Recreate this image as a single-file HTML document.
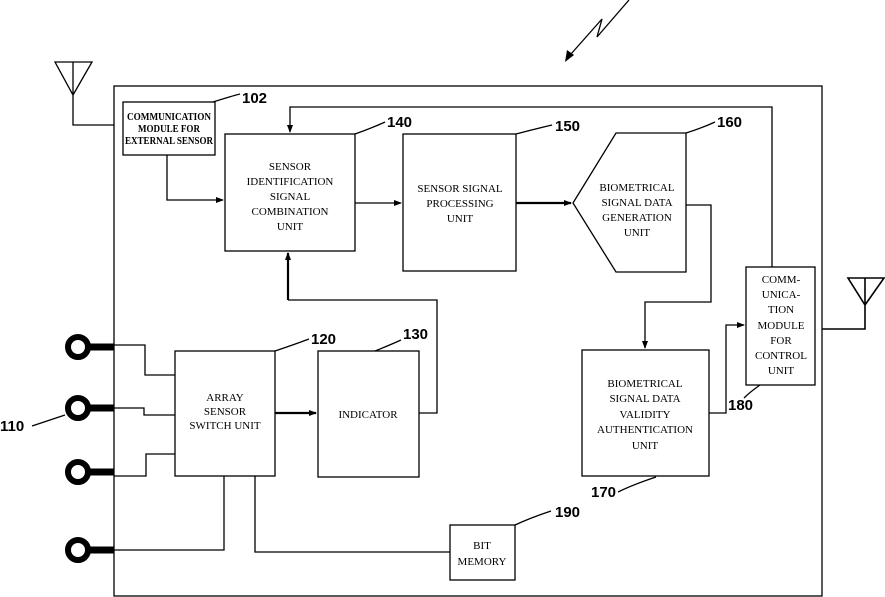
<!DOCTYPE html>
<html><head><meta charset="utf-8"><style>
html,body{margin:0;padding:0;background:#fff;}
svg{display:block;}
text{font-family:"Liberation Serif",serif;font-size:11px;fill:#000;text-anchor:middle;}
.n{font-family:"Liberation Sans",sans-serif;font-weight:bold;font-size:15px;text-anchor:start;}
</style></head><body>
<svg width="885" height="597" viewBox="0 0 885 597" xmlns="http://www.w3.org/2000/svg">
<defs>
<marker id="a" markerWidth="8" markerHeight="6" refX="7" refY="3" orient="auto" markerUnits="userSpaceOnUse"><path d="M0,0 L8,3 L0,6 z" fill="#000"/></marker>
</defs>
<g fill="none" stroke="#000" stroke-width="1.3">
<rect x="114" y="86" width="708" height="510"/>
<path d="M55,62 L92,62 L73,95 Z M73,62 L73,125 L114,125"/>
<path d="M848,278 L884,278 L865,305 Z M865,278 L865,329 L822,329" stroke-width="1.6"/>
<rect x="123" y="102" width="92" height="53"/>
<rect x="225" y="134" width="130" height="117"/>
<rect x="403" y="134" width="113" height="137"/>
<path d="M616,133 L686,133 L686,272 L616,272 L573,203 Z"/>
<rect x="746" y="267" width="69" height="118"/>
<rect x="582" y="350" width="127" height="126"/>
<rect x="175" y="351" width="100" height="125"/>
<rect x="318" y="351" width="101" height="126"/>
<rect x="450" y="525" width="65" height="55"/>
<path d="M167,155 L167,200 L223,200" marker-end="url(#a)"/>
<path d="M355,203 L401,203" marker-end="url(#a)"/>
<path d="M516,203 L571,203" stroke-width="2.2" marker-end="url(#a)"/>
<path d="M686,205 L711,205 L711,302 L645,302 L645,348" marker-end="url(#a)"/>
<path d="M709,413 L726,413 L726,325 L744,325" marker-end="url(#a)"/>
<path d="M772,267 L772,107 L290,107 L290,132" marker-end="url(#a)"/>
<path d="M275,413 L316,413" stroke-width="2.2" marker-end="url(#a)"/>
<path d="M419,413 L437,413 L437,300 L288,300"/>
<path d="M288,300 L288,253" stroke-width="2.2" marker-end="url(#a)"/>
<path d="M114,345 L145,345 L145,375 L175,375"/>
<path d="M114,408 L144,408 L144,415 L175,415"/>
<path d="M114,476 L146,476 L146,454 L175,454"/>
<path d="M114,550 L224,550 L224,476"/>
<path d="M255,476 L255,552 L450,552"/>
<g stroke-width="6">
<circle cx="78" cy="347" r="10"/>
<circle cx="78" cy="408" r="10"/>
<circle cx="78" cy="472" r="10"/>
<circle cx="78" cy="550" r="10"/>
</g>
<g stroke-width="7">
<path d="M88,347 L114,347 M88,408 L114,408 M88,472 L114,472 M88,550 L114,550"/>
</g>
<path d="M213,102 Q232,96 240,94"/>
<path d="M355,134 Q372,128 385,122"/>
<path d="M516,134 Q535,129 552,125"/>
<path d="M686,133 Q702,128 715,122"/>
<path d="M275,351 Q293,345 309,339"/>
<path d="M375,351 Q390,345 401,340"/>
<path d="M32,426 Q50,420 65,415"/>
<path d="M760,385 Q750,392 744,398"/>
<path d="M618,492 Q632,485 656,477"/>
<path d="M515,525 Q530,518 551,511"/>
<path d="M629,0 L597,37 L602,19 L571,54"/>
</g>
<path d="M565,62 L567,50 L574,55 Z" fill="#000"/>
<text x="169" y="120" font-size="8" font-weight="bold" textLength="84" lengthAdjust="spacingAndGlyphs">COMMUNICATION</text>
<text x="169" y="132" font-size="8" font-weight="bold" textLength="62" lengthAdjust="spacingAndGlyphs">MODULE FOR</text>
<text x="169" y="144" font-size="8" font-weight="bold" textLength="88" lengthAdjust="spacingAndGlyphs">EXTERNAL SENSOR</text>
<text x="290" y="170">SENSOR</text>
<text x="290" y="185">IDENTIFICATION</text>
<text x="290" y="200">SIGNAL</text>
<text x="290" y="215">COMBINATION</text>
<text x="290" y="230">UNIT</text>
<text x="460" y="192">SENSOR SIGNAL</text>
<text x="460" y="207">PROCESSING</text>
<text x="460" y="222">UNIT</text>
<text x="637" y="191">BIOMETRICAL</text>
<text x="637" y="206">SIGNAL DATA</text>
<text x="637" y="221">GENERATION</text>
<text x="637" y="236">UNIT</text>
<text x="781" y="283">COMM-</text>
<text x="781" y="298">UNICA-</text>
<text x="781" y="313">TION</text>
<text x="781" y="329">MODULE</text>
<text x="781" y="344">FOR</text>
<text x="781" y="359">CONTROL</text>
<text x="781" y="374">UNIT</text>
<text x="645" y="387">BIOMETRICAL</text>
<text x="645" y="402">SIGNAL DATA</text>
<text x="645" y="418">VALIDITY</text>
<text x="645" y="433">AUTHENTICATION</text>
<text x="645" y="449">UNIT</text>
<text x="225" y="401">ARRAY</text>
<text x="225" y="415">SENSOR</text>
<text x="225" y="429">SWITCH UNIT</text>
<text x="368" y="418">INDICATOR</text>
<text x="482" y="549">BIT</text>
<text x="482" y="565">MEMORY</text>
<text class="n" x="242" y="103">102</text>
<text class="n" x="387" y="127">140</text>
<text class="n" x="555" y="131">150</text>
<text class="n" x="717" y="127">160</text>
<text class="n" x="311" y="344">120</text>
<text class="n" x="403" y="339">130</text>
<text class="n" x="0" y="431">110</text>
<text class="n" x="728" y="410">180</text>
<text class="n" x="591" y="497">170</text>
<text class="n" x="555" y="517">190</text>
</svg>
</body></html>
